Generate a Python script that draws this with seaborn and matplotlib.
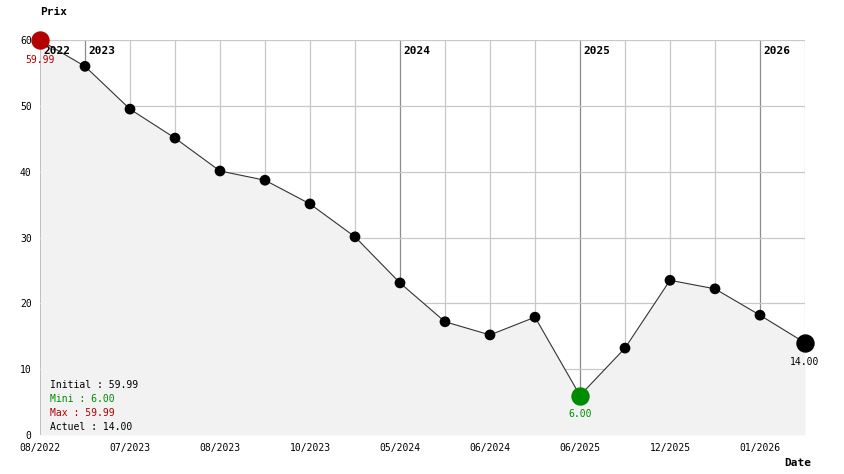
import matplotlib
matplotlib.use("Agg")
import matplotlib.pyplot as plt
import seaborn as sns
import pandas as pd

# données
dates = ["08/2022", "", "07/2023", "", "08/2023", "", "10/2023", "", "05/2024", "",
         "06/2024", "", "06/2025", "", "12/2025", "", "01/2026", ""]
prix = [59.99, 56.0, 49.5, 45.1, 40.1, 38.7, 35.1, 30.1, 23.1, 17.2,
        15.2, 17.9, 6.00, 13.2, 23.5, 22.2, 18.2, 14.00]
annees = ["2022", "2023", "2024", "2025", "2026"]
debut_annee = [0, 1, 8, 12, 16]

df = pd.DataFrame({"pos": range(len(prix)), "prix": prix})
i_max = df["prix"].idxmax()
i_min = df["prix"].idxmin()
i_last = len(prix) - 1

MONO = "DejaVu Sans Mono"
ROUGE = "#b30000"
VERT = "#008c00"

sns.set_style("white")
plt.rcParams["text.color"] = "black"
plt.rcParams["xtick.color"] = "black"
plt.rcParams["ytick.color"] = "black"

fig = plt.figure(figsize=(8.44, 4.74), dpi=100)
ax = fig.add_axes([40 / 844, 39 / 474, 765 / 844, 395 / 474])

# grille
for x in df["pos"]:
    c = "#8c8c8c" if x in debut_annee else "#c8c8c8"
    ax.axvline(x, color=c, lw=0.9, zorder=0)
for y in range(10, 70, 10):
    ax.axhline(y, color="#c8c8c8", lw=0.9, zorder=0)

# zone sous la courbe
ax.fill_between(df["pos"], df["prix"], 0, color="#f2f2f2", zorder=1, lw=0)

sns.lineplot(data=df, x="pos", y="prix", color="#333333", lw=0.8, ax=ax, zorder=2)
sns.scatterplot(data=df.drop([i_max, i_min, i_last]), x="pos", y="prix",
                color="black", s=60, edgecolor="none", ax=ax, zorder=3)

# années en haut
for nom, x in zip(annees, debut_annee):
    ax.text(x + 0.08, 58.4, nom, fontsize=8, fontweight="bold", family=MONO,
            va="center", ha="left", zorder=2, color="black")

# points spéciaux
ax.scatter(i_max, prix[i_max], s=150, color=ROUGE, zorder=4, clip_on=False)
ax.scatter(i_min, prix[i_min], s=150, color=VERT, zorder=4, clip_on=False)
ax.scatter(i_last, prix[i_last], s=150, color="black", zorder=4, clip_on=False)
ax.text(i_max, prix[i_max] - 3.0, f"{prix[i_max]:.2f}", color=ROUGE, fontsize=7,
        family=MONO, ha="center", va="center", zorder=5)
ax.text(i_min, prix[i_min] - 2.8, f"{prix[i_min]:.2f}", color=VERT, fontsize=7,
        family=MONO, ha="center", va="center", zorder=5)
ax.text(i_last, prix[i_last] - 2.9, f"{prix[i_last]:.2f}", color="black", fontsize=7,
        family=MONO, ha="center", va="center", zorder=5)

# résumé
resume = [(f"Initial : {prix[0]:.2f}", "black"), (f"Mini : {prix[i_min]:.2f}", VERT),
          (f"Max : {prix[i_max]:.2f}", ROUGE), (f"Actuel : {prix[i_last]:.2f}", "black")]
for k, (txt, c) in enumerate(resume):
    ax.text(0.22, 7.6 - k * 2.15, txt, color=c, fontsize=7, family=MONO,
            ha="left", va="center", zorder=5)

ax.set_xlim(0, len(prix) - 1)
ax.set_ylim(0, 60)
ax.set_xticks(df["pos"])
ax.set_xticklabels(dates, fontsize=7, family=MONO)
ax.set_yticks(range(0, 70, 10))
ax.set_yticklabels([str(v) for v in range(0, 70, 10)], fontsize=7, family=MONO)
ax.tick_params(length=0, pad=6, labelcolor="black")
ax.set_xlabel("")
ax.set_ylabel("")
for s in ax.spines.values():
    s.set_visible(False)

fig.text(40 / 844, 1 - 12 / 474, "Prix", fontsize=8, fontweight="bold", family=MONO,
         ha="left", va="center", color="black")
fig.text(811 / 844, 1 - 463 / 474, "Date", fontsize=8, fontweight="bold", family=MONO,
         ha="right", va="center", color="black")

fig.savefig("out.png", dpi=100)
